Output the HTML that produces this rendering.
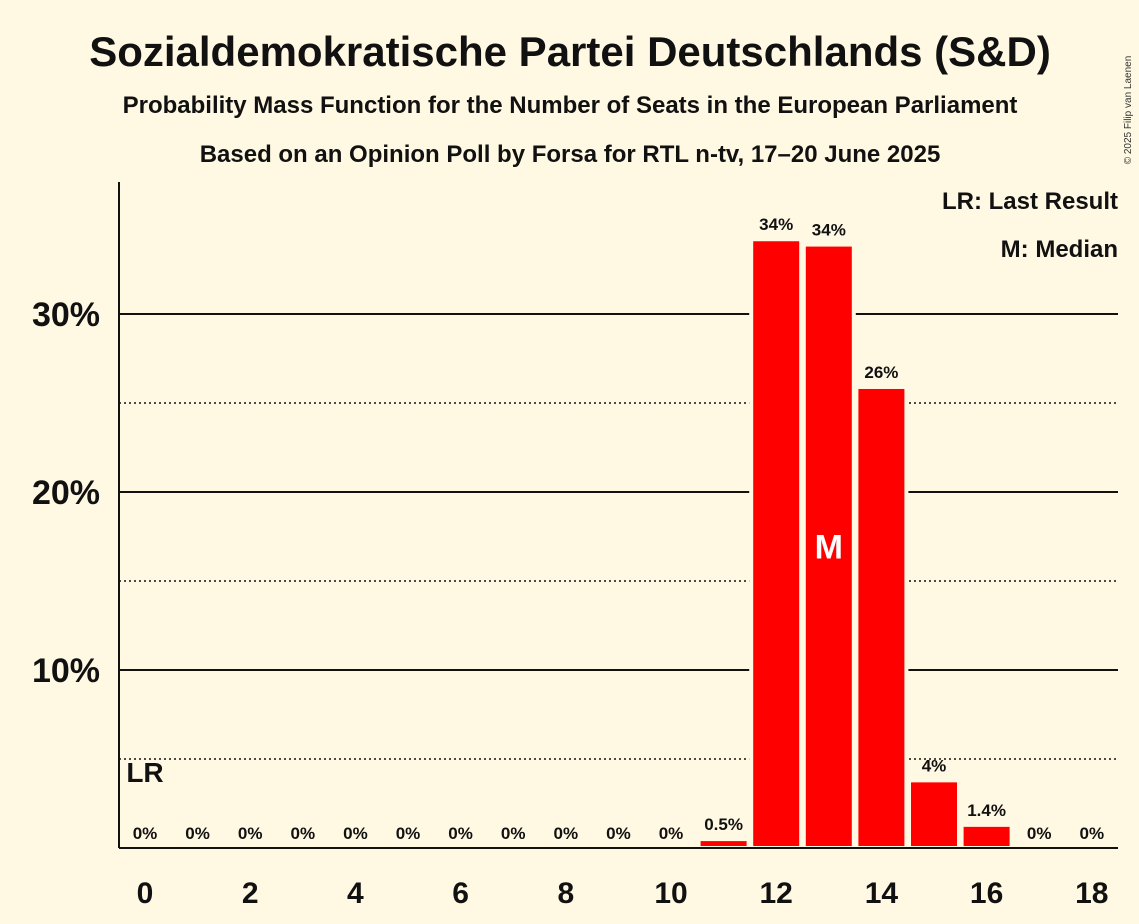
<!DOCTYPE html>
<html><head><meta charset="utf-8"><style>
body{margin:0;background:#fff8e3;}
svg{display:block;font-family:"Liberation Sans",sans-serif;font-weight:bold;}
</style></head><body>
<svg id="c" width="1139" height="924">
<rect width="1139" height="924" fill="#fff8e3"/>
<text x="570" y="66" font-size="42" text-anchor="middle" fill="#111">Sozialdemokratische Partei Deutschlands (S&amp;D)</text>
<text x="570" y="113" font-size="24" text-anchor="middle" fill="#111">Probability Mass Function for the Number of Seats in the European Parliament</text>
<text x="570" y="162" font-size="24" text-anchor="middle" fill="#111">Based on an Opinion Poll by Forsa for RTL n-tv, 17–20 June 2025</text>
<text x="1131" y="110" font-size="10" font-weight="normal" fill="#333" transform="rotate(-90 1131 110)" text-anchor="middle">© 2025 Filip van Laenen</text>
<g id="grid"></g><g id="bars"></g><g id="labels"></g>
<line x1="119" y1="182" x2="119" y2="848" stroke="#111" stroke-width="2"/>
<line x1="119" y1="848" x2="1118" y2="848" stroke="#111" stroke-width="2"/>
<text x="1118" y="209" font-size="24" text-anchor="end" fill="#111">LR: Last Result</text>
<text x="1118" y="257" font-size="24" text-anchor="end" fill="#111">M: Median</text>
</svg>
<script>
const seats=[0,1,2,3,4,5,6,7,8,9,10,11,12,13,14,15,16,17,18];
const probs=[0,0,0,0,0,0,0,0,0,0,0,0.5,34.2,33.9,25.9,3.8,1.3,0,0];
const valueLabels=["0%","0%","0%","0%","0%","0%","0%","0%","0%","0%","0%","0.5%","34%","34%","26%","4%","1.4%","0%","0%"];
const yTicks=[10,20,30];
const yMinor=[5,15,25];
const xTickLabels=["0","2","4","6","8","10","12","14","16","18"];
const medianSeat=13, lastResultSeat=0;
const NS="http://www.w3.org/2000/svg";
const x=s=>145+s*52.6;
const y=v=>848-v*17.8;
function mk(t,a,p){const e=document.createElementNS(NS,t);for(const k in a)e.setAttribute(k,a[k]);p.appendChild(e);return e;}
const svg=document.getElementById('c'),g=document.getElementById('grid'),b=document.getElementById('bars'),l=document.getElementById('labels');
yTicks.forEach(v=>{const e=mk('line',{x1:119,x2:1118,y1:y(v),y2:y(v),stroke:'#111','stroke-width':2},g);

const t=mk('text',{x:100,y:y(v)+12,'font-size':34,'text-anchor':'end',fill:'#111'},l);t.textContent=v+'%';
});
yMinor.forEach(v=>{const e=mk('line',{x1:119,x2:1118,y1:y(v),y2:y(v),stroke:'#111','stroke-width':1.5,'stroke-dasharray':'2,3'},g);
});
seats.forEach((s,i)=>{const p=probs[i];
if(p>0){const r=mk('rect',{x:x(s)-25,y:y(p),width:50,height:848-y(p),fill:'#ff0000',stroke:'#fff8e3','stroke-width':4},b);
}
const t=mk('text',{x:x(s),y:y(p)-9,'font-size':17,'text-anchor':'middle',fill:'#111'},l);t.textContent=valueLabels[i];
});
xTickLabels.forEach(v=>{const t=mk('text',{x:x(+v),y:903,'font-size':30,'text-anchor':'middle',fill:'#111'},l);t.textContent=v;
});
const m=mk('text',{x:x(medianSeat),y:y(probs[medianSeat]/2)+12,'font-size':34,'text-anchor':'middle',fill:'#fff'},l);m.textContent='M';

const lr=mk('text',{x:x(lastResultSeat),y:782,'font-size':28,'text-anchor':'middle',fill:'#111'},l);lr.textContent='LR';

</script>
</body></html>
